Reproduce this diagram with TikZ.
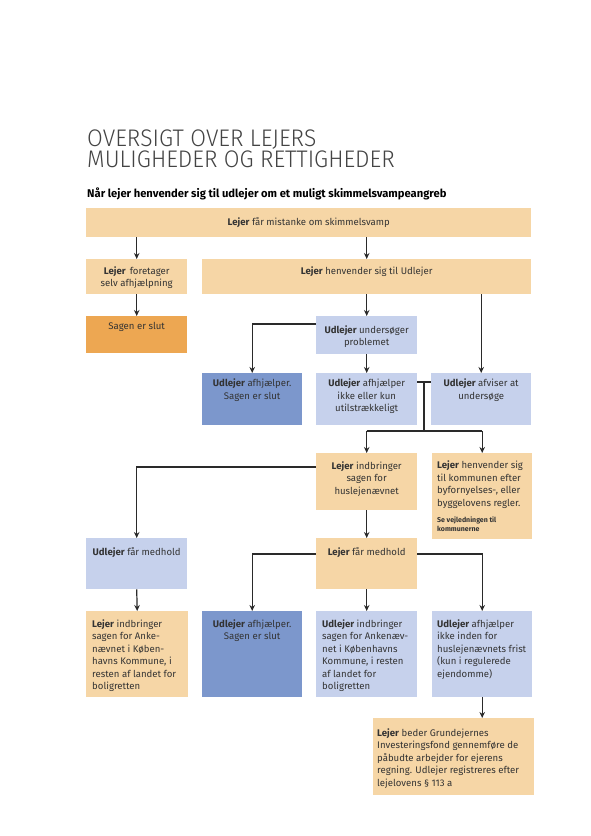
\documentclass[tikz,border=0pt]{standalone}
\usepackage{fontspec}
\setmainfont{Fira Sans}
\IfFontExistsTF{Fira Sans Light}{\newfontfamily\titlefont{Fira Sans Light}}{\newfontfamily\titlefont{Fira Sans}}
\usetikzlibrary{arrows.meta}
\definecolor{lor}{HTML}{F6D6A6}
\definecolor{dor}{HTML}{EDA752}
\definecolor{lbl}{HTML}{C6D1EC}
\definecolor{dbl}{HTML}{7C97CC}
\definecolor{txtc}{HTML}{333333}
\definecolor{linec}{HTML}{2A2A2A}
\definecolor{titc}{HTML}{444444}
\newcommand\bx[6]{\node[boxst, fill=#6, minimum width={(#4-#2)*1pt}, minimum height={(#5-#3)*1pt}] (#1) at (#2,#3) {};}
\newcommand\tinytxt[1]{{\fontsize{7}{9}\selectfont\bfseries #1}}
\tikzset{
  boxst/.style={draw=none, inner sep=0pt, anchor=north west},
  txt/.style={inner sep=0pt, font=\fontsize{9.6}{12.4}\selectfont, text=txtc},
  ctxt/.style={txt, align=center, anchor=north},
  ltxt/.style={txt, align=left, anchor=north west},
  arr/.style={draw=linec, line width=1.2pt, -{Stealth[length=6pt,width=5.5pt]}},
  ln/.style={draw=linec, line width=1.2pt},
  titst/.style={anchor=base west, inner sep=0pt, text height=17pt, text depth=0pt, text=titc, font=\titlefont\fontsize{24}{21}\selectfont}
}
\begin{document}
\begin{tikzpicture}[x=1pt,y=-1pt]
\useasboundingbox (0,0) rectangle (591,836);
\fill[white] (0,0) rectangle (591,836);
% title
\node[titst] (title1) at (87,146) {\scalebox{0.95}[1]{OVERSIGT OVER LEJERS}};
\node[titst] (title2) at (87,167) {\scalebox{0.95}[1]{MULIGHEDER OG RETTIGHEDER}};
\node[anchor=base west, inner sep=0pt, text=black, font=\bfseries\fontsize{11.2}{13}\selectfont] (sub) at (87,197) {Når lejer henvender sig til udlejer om et muligt skimmelsvampeangreb};
% boxes
\bx{b1}{86}{208}{531}{237}{lor}
\bx{b2}{86}{259}{187}{294}{lor}
\bx{b3}{202}{259}{531}{294}{lor}
\bx{b4}{86}{316}{187}{353}{dor}
\bx{b5}{316}{316}{417}{354}{lbl}
\bx{b6}{202}{373}{302}{425}{dbl}
\bx{b7}{316}{373}{417}{425}{lbl}
\bx{b8}{431}{373}{531}{425}{lbl}
\bx{b9}{316}{453}{417}{510}{lor}
\bx{b10}{432}{453}{532}{539}{lor}
\bx{b11}{86}{538}{187}{589}{lbl}
\bx{b12}{316}{538}{417}{589}{lor}
\bx{b13}{86}{611}{188}{697}{lor}
\bx{b14}{202}{611}{302}{697}{dbl}
\bx{b15}{316}{611}{417}{697}{lbl}
\bx{b16}{432}{611}{532}{697}{lbl}
\bx{b17}{373}{718}{534}{795}{lor}
% texts
\node[txt, anchor=center] (t1) at (b1.center) {\textbf{Lejer} får mistanke om skimmelsvamp};
\node[ctxt] (t2) at ([yshift=-7.5]b2.north) {\textbf{Lejer}\, foretager\\selv afhjælpning};
\node[ctxt] (t3) at ([yshift=-7.5]b3.north) {\textbf{Lejer} henvender sig til Udlejer};
\node[ctxt] (t4) at ([yshift=-6.5]b4.north) {Sagen er slut};
\node[ctxt] (t5) at ([yshift=-9.5]b5.north) {\textbf{Udlejer} undersøger\\problemet};
\node[ctxt] (t6) at ([yshift=-6]b6.north) {\textbf{Udlejer} afhjælper.\\Sagen er slut};
\node[ctxt] (t7) at ([yshift=-6]b7.north) {\textbf{Udlejer} afhjælper\\ikke eller kun\\utilstrækkeligt};
\node[ctxt] (t8) at ([yshift=-6]b8.north) {\textbf{Udlejer} afviser at\\undersøge};
\node[ctxt] (t9) at ([yshift=-8.5]b9.north) {\textbf{Lejer} indbringer\\sagen for\\huslejenævnet};
\node[ltxt] (t10) at ([xshift=5,yshift=-8]b10.north west) {\textbf{Lejer} henvender sig\\til kommunen efter\\byfornyelses-, eller\\byggelovens regler.\\[4pt]\tinytxt{Se vejledningen til}\\[-3pt]\tinytxt{kommunerne}};
\node[ctxt] (t11) at ([yshift=-9.5]b11.north) {\textbf{Udlejer} får medhold};
\node[ctxt] (t12) at ([yshift=-9.5]b12.north) {\textbf{Lejer} får medhold};
\node[ltxt] (t13) at ([xshift=6,yshift=-8.5]b13.north west) {\textbf{Lejer} indbringer\\sagen for Anke-\\nævnet i Køben-\\havns Kommune, i\\resten af landet for\\boligretten};
\node[ctxt] (t14) at ([yshift=-8.5]b14.north) {\textbf{Udlejer} afhjælper.\\Sagen er slut};
\node[ltxt] (t15) at ([xshift=6,yshift=-8.5]b15.north west) {\textbf{Udlejer} indbringer\\sagen for Ankenæv-\\net i Københavns\\Kommune, i resten\\af landet for\\boligretten};
\node[ltxt] (t16) at ([xshift=5,yshift=-8.5]b16.north west) {\textbf{Udlejer} afhjælper\\ikke inden for\\huslejenævnets frist\\(kun i regulerede\\ejendomme)};
\node[ltxt] (t17) at ([xshift=4,yshift=-10.5]b17.north west) {\textbf{Lejer} beder Grundejernes\\Investeringsfond gennemføre de\\påbudte arbejder for ejerens\\regning. Udlejer registreres efter\\lejelovens § 113 a};
% connectors
\coordinate (j5) at (316,324);
\coordinate (j7) at (417,382);
\coordinate (j7e) at (431,382);
\coordinate (jt) at (424,382);
\coordinate (jb) at (424,431);
\coordinate (j9) at (316,467);
\coordinate (j12) at (316,554);
\coordinate (j12e) at (417,554);
\draw[arr] (b2.north |- b1.south) -- (b2.north);
\draw[arr] (b5.north |- b1.south) -- (b5.north |- b3.north);
\draw[arr] (b2.south) -- (b4.north);
\draw[arr] (b5.north |- b3.south) -- (b5.north);
\draw[arr] (j5) -| (b6.north);
\draw[arr] (b8.north |- b3.south) -- (b8.north);
\draw[arr] (b5.south) -- (b7.north);
\draw[ln] (j7) -- (j7e);
\draw[ln] (jt) -- (jb);
\draw[ln] (b9.north |- jb) -- (b10.north |- jb);
\draw[arr] (b9.north |- jb) -- (b9.north);
\draw[arr] (b10.north |- jb) -- (b10.north);
\draw[arr] (j9) -| (b11.north);
\draw[arr] (b9.south) -- (b12.north);
\draw[arr] (j12) -| (b14.north);
\draw[arr] (j12e) -| (b16.north);
\draw[arr] (b12.south) -- (b15.north);
\draw[arr] (b11.south) -- (b13.north);
\draw[arr] (b16.south) -- (b16.south |- b17.north);
\end{tikzpicture}
\end{document}
